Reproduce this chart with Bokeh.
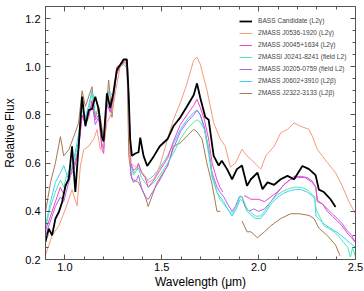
from bokeh.plotting import figure
from bokeh.models import (LinearAxis, SingleIntervalTicker, PrintfTickFormatter, Range1d, Legend,
                          LegendItem, CustomLabelingPolicy)
from bokeh.embed import file_html
from bokeh.resources import INLINE

nan = float("nan")

labels = [
    "BASS Candidate (L2\u03b3)",
    "2MASS J0536-1920 (L2\u03b3)",
    "2MASS J0045+1634 (L2\u03b3)",
    "2MASSI J0241-8241 (field L2)",
    "2MASS J0205-0759 (field L2)",
    "2MASS J0602+3910 (L2\u03b2)",
    "2MASS J2322-3133 (L2\u03b2)",
]
colors = ["#000000", "#F7997A", "#EE44C4", "#4DE8B0", "#B061F2", "#3FCFF8", "#A8784E"]
widths = [1.8, 1, 1, 1, 1, 1, 1]

# BASS Candidate
wl_bass = [0.9, 0.917, 0.934, 0.951, 0.969, 0.986, 1.003, 1.02, 1.037, 1.054, 1.071, 1.089, 1.106, 1.123,
           1.14, 1.157, 1.174, 1.191, 1.2, 1.217, 1.234, 1.25, 1.268, 1.285, 1.303, 1.32, 1.329, 1.337,
           1.346, 1.363, 1.38, 1.389, 1.406, 1.425, 1.46, 1.49, 1.53, 1.56, 1.596, 1.63, 1.665, 1.682,
           1.699, 1.725, 1.742, 1.768, 1.794, 1.81, 1.837, 1.863, 1.888, 1.914, 1.94, 1.96, 1.994, 2.02,
           2.046, 2.08, 2.114, 2.149, 2.183, 2.226, 2.26, 2.294, 2.311, 2.337, 2.371, 2.397]
fl_bass = [0.274, 0.328, 0.30, 0.369, 0.397, 0.439, 0.506, 0.534, 0.67, 0.48, 0.67, 0.876, 0.753, 0.82,
           0.825, 0.876, 0.825, 0.71, 0.69, 0.89, 0.83, 0.89, 0.986, 1.007, 1.03, 1.03, 0.89, 0.70,
           0.63, 0.64, 0.645, 0.706, 0.63, 0.588, 0.63, 0.67, 0.70, 0.753, 0.79, 0.835, 0.883, 0.931,
           0.87, 0.79, 0.78, 0.63, 0.59, 0.61, 0.575, 0.533, 0.575, 0.59, 0.506, 0.533, 0.56, 0.492,
           0.52, 0.51, 0.533, 0.547, 0.533, 0.588, 0.575, 0.55, 0.49, 0.48, 0.45, 0.418]

# 2MASS J0536-1920
wl_0536 = [0.9, 0.934, 0.969, 1.003, 1.037, 1.063, 1.08, 1.097, 1.123, 1.149, 1.166, 1.183, 1.2, 1.217,
           1.243, 1.26, 1.285, 1.311, 1.325, 1.337, 1.354, 1.38, 1.414, 1.43, 1.46, 1.49, 1.53, 1.56,
           1.596, 1.63, 1.665, 1.682, 1.699, 1.733, 1.768, 1.802, 1.828, 1.854, 1.88, 1.914, 1.94, 1.96,
           2.011, 2.037, 2.08, 2.114, 2.149, 2.183, 2.217, 2.26, 2.277, 2.303, 2.354, 2.397, 2.431, 2.466, 2.5]
fl_0536 = [0.218, 0.30, 0.34, 0.41, 0.49, 0.423, 0.588, 0.656, 0.67, 0.70, 0.739, 0.656, 0.67, 0.767,
           0.81, 0.89, 1.0, 1.02, 0.97, 0.603, 0.59, 0.575, 0.548, 0.52, 0.534, 0.588, 0.70, 0.78,
           0.85, 0.93, 1.027, 1.04, 1.01, 0.904, 0.767, 0.70, 0.67, 0.583, 0.60, 0.657, 0.63, 0.616,
           0.575, 0.63, 0.67, 0.726, 0.74, 0.767, 0.753, 0.74, 0.712, 0.657, 0.603, 0.56, 0.506, 0.44, 0.39]

# 2MASS J0045+1634
wl_0045 = [0.9, 0.926, 0.951, 0.977, 0.994, 1.01, 1.03, 1.05, 1.071, 1.089, 1.106, 1.123, 1.14, 1.157,
           1.174, 1.191, 1.2, 1.217, 1.234, 1.25, 1.268, 1.285, 1.303, 1.32, 1.33, 1.34, 1.354, 1.37,
           1.38, 1.395, 1.414, 1.43, 1.46, 1.49, 1.53, 1.56, 1.596, 1.63, 1.665, 1.682, 1.699, 1.72,
           1.742, 1.76, 1.785, 1.80, 1.815, 1.87, 1.925, 1.94, 1.96, 2.0, 2.03, 2.063, 2.097, 2.13, 2.16,
           2.183, 2.22, 2.25, 2.277, 2.295, 2.303, 2.33, 2.354, 2.38, 2.406, 2.43, 2.457, 2.48, 2.5]
fl_0045 = [0.32, 0.38, 0.44, 0.50, 0.47, 0.52, 0.56, 0.60, 0.66, 0.80, 0.76, 0.79, 0.86, 0.78,
           0.80, 0.66, 0.64, 0.84, 0.82, 0.88, 0.97, 1.0, 1.02, 1.01, 0.85, 0.60, 0.57, 0.58,
           0.60, 0.56, 0.54, 0.50, 0.53, 0.57, 0.62, 0.69, 0.76, 0.80, 0.84, 0.865, 0.83, 0.78,
           0.70, 0.60, 0.53, 0.50, 0.48, nan, 0.465, 0.46, 0.45, 0.45, 0.44, 0.46, 0.48, 0.51, 0.53,
           0.545, 0.545, 0.54, 0.525, 0.50, 0.445, 0.43, 0.40, 0.38, 0.36, 0.34, 0.31, 0.29, 0.27]

# 2MASSI J0241-8241
wl_0241 = [0.9, 0.926, 0.951, 0.977, 0.994, 1.01, 1.03, 1.05, 1.071, 1.089, 1.106, 1.123, 1.14, 1.157,
           1.174, 1.191, 1.2, 1.217, 1.234, 1.25, 1.268, 1.285, 1.303, 1.32, 1.33, 1.34, 1.354, 1.37,
           1.38, 1.395, 1.414, 1.43, 1.46, 1.49, 1.53, 1.56, 1.596, 1.63, 1.665, 1.682, 1.699, 1.72,
           1.742, 1.76, 1.785, 1.80, 1.82, 1.84, 1.863, 1.885, 1.905, 1.92, 1.94, 1.96, 1.985, 2.01,
           2.04, 2.063, 2.1, 2.13, 2.16, 2.19, 2.22, 2.25, 2.277, 2.29, 2.296, 2.32, 2.337, 2.36, 2.389,
           2.41, 2.44, 2.46, 2.474, 2.485, 2.5]
fl_0241 = [0.33, 0.42, 0.48, 0.53, 0.50, 0.55, 0.58, 0.62, 0.69, 0.82, 0.78, 0.82, 0.89, 0.80,
           0.81, 0.70, 0.69, 0.87, 0.84, 0.88, 0.98, 1.01, 1.02, 1.01, 0.85, 0.60, 0.55, 0.57,
           0.58, 0.54, 0.52, 0.50, 0.52, 0.55, 0.60, 0.64, 0.70, 0.74, 0.77, 0.78, 0.77, 0.74,
           0.66, 0.55, 0.48, 0.45, 0.43, 0.41, 0.39, 0.42, 0.465, 0.45, 0.41, 0.395, 0.38, 0.38,
           0.41, 0.44, 0.47, 0.485, 0.495, 0.50, 0.50, 0.49, 0.47, 0.46, 0.41, 0.37, 0.34, 0.33, 0.315,
           0.30, 0.27, 0.25, 0.21, 0.25, 0.21]

# 2MASS J0205-0759
wl_0205 = [0.9, 0.926, 0.951, 0.977, 0.994, 1.01, 1.03, 1.05, 1.071, 1.089, 1.106, 1.123, 1.14, 1.157,
           1.174, 1.191, 1.2, 1.217, 1.234, 1.25, 1.268, 1.285, 1.303, 1.32, 1.33, 1.34, 1.354, 1.37,
           1.38, 1.395, 1.414, 1.43, 1.46, 1.49, 1.53, 1.56, 1.596, 1.63, 1.665, 1.682, 1.699, 1.72,
           1.742, 1.76, 1.785, 1.80, 1.82, 1.84, 1.863, 1.88, 1.90, 1.915, 1.93, 1.95, 1.975, 2.0,
           2.03, 2.063, 2.1, 2.13, 2.16, 2.2, 2.24, 2.277, 2.295, 2.303, 2.33, 2.354, 2.38, 2.406,
           2.43, 2.457, 2.48, 2.5]
fl_0205 = [0.30, 0.36, 0.42, 0.46, 0.44, 0.49, 0.55, 0.58, 0.66, 0.80, 0.77, 0.80, 0.85, 0.76,
           0.79, 0.68, 0.66, 0.85, 0.81, 0.87, 0.98, 1.0, 1.02, 1.01, 0.80, 0.55, 0.52, 0.53,
           0.55, 0.50, 0.46, 0.45, 0.49, 0.53, 0.59, 0.66, 0.73, 0.77, 0.80, 0.82, 0.80, 0.75,
           0.66, 0.56, 0.50, 0.48, 0.46, 0.43, 0.40, 0.42, 0.46, 0.46, 0.42, 0.40, 0.41, 0.40,
           0.41, 0.44, 0.48, 0.51, 0.53, 0.54, 0.54, 0.52, 0.50, 0.44, 0.43, 0.41, 0.39, 0.37,
           0.35, 0.32, 0.30, 0.27]

# 2MASS J0602+3910
wl_0602 = [0.9, 0.926, 0.951, 0.977, 0.994, 1.02, 1.046, 1.071, 1.089, 1.106, 1.123, 1.14, 1.157, 1.174,
           1.191, 1.2, 1.226, 1.25, 1.268, 1.285, 1.303, 1.325, 1.34, 1.354, 1.37, 1.38, 1.406, 1.43,
           1.46, 1.49, 1.53, 1.56, 1.596, 1.63, 1.665, 1.682, 1.699, 1.72, 1.742, 1.76, 1.785, 1.80,
           1.82, 1.84, 1.863, 1.885, 1.905, 1.92, 1.94, 1.96, 1.985, 2.01, 2.04, 2.063, 2.1, 2.13,
           2.16, 2.19, 2.22, 2.25, 2.277, 2.29, 2.296, 2.32, 2.35, 2.389, 2.41, 2.44, 2.47, 2.5]
fl_0602 = [0.34, 0.44, 0.52, 0.56, 0.59, 0.53, 0.615, 0.72, 0.83, 0.79, 0.84, 0.90, 0.80, 0.79,
           0.72, 0.70, 0.90, 0.876, 0.986, 1.0, 1.01, 0.99, 0.60, 0.56, 0.57, 0.59, 0.55, 0.53,
           0.55, 0.58, 0.63, 0.68, 0.74, 0.78, 0.81, 0.82, 0.80, 0.74, 0.64, 0.54, 0.48, 0.46,
           0.44, 0.41, 0.38, 0.41, 0.45, 0.44, 0.40, 0.385, 0.37, 0.37, 0.40, 0.43, 0.46, 0.475,
           0.485, 0.49, 0.49, 0.48, 0.465, 0.45, 0.38, 0.36, 0.34, 0.32, 0.31, 0.29, 0.27, 0.25]

# 2MASS J2322-3133
wl_2322 = [0.9, 0.926, 0.951, 0.977, 0.994, 1.02, 1.046, 1.071, 1.089, 1.106, 1.14, 1.157, 1.174, 1.2,
           1.226, 1.243, 1.268, 1.294, 1.32, 1.33, 1.346, 1.38, 1.414, 1.43, 1.476, 1.53, 1.56, 1.596,
           1.63, 1.665, 1.682, 1.708, 1.733, 1.76, 1.785, 1.802, 1.86, 1.914, 1.94, 1.96, 1.994, 2.03,
           2.063, 2.114, 2.166, 2.209, 2.26, 2.286, 2.311, 2.354, 2.397, 2.42]
fl_2322 = [0.397, 0.52, 0.60, 0.71, 0.63, 0.656, 0.71, 0.767, 0.90, 0.835, 0.917, 0.79, 0.835, 0.70,
           0.945, 0.79, 1.0, 1.01, 1.03, 0.63, 0.534, 0.52, 0.465, 0.42, 0.52, 0.588, 0.67, 0.684,
           0.712, 0.74, 0.73, 0.70, 0.60, 0.51, 0.40, 0.40, nan, 0.36, 0.315, 0.315, 0.29, 0.315,
           0.34, 0.37, 0.39, 0.39, 0.383, 0.37, 0.33, 0.30, 0.26, 0.216]

wls = [wl_bass, wl_0536, wl_0045, wl_0241, wl_0205, wl_0602, wl_2322]
fls = [fl_bass, fl_0536, fl_0045, fl_0241, fl_0205, fl_0602, fl_2322]

FONT = "Liberation Sans"

p = figure(width=364, height=291, output_backend="svg", toolbar_location=None,
           x_range=Range1d(0.9, 2.5), y_range=Range1d(0.2, 1.25),
           min_border_left=44, min_border_right=9, min_border_top=6, min_border_bottom=30)
p.background_fill_color = "white"
p.border_fill_color = "white"
p.grid.visible = False
p.outline_line_color = "#222222"
p.outline_line_width = 1

order = [6, 5, 4, 3, 2, 1, 0]
rmap = {}
for i in order:
    rmap[i] = p.line(wls[i], fls[i], line_color=colors[i], line_width=widths[i])

legend = Legend(items=[LegendItem(label=labels[i], renderers=[rmap[i]]) for i in range(7)],
                location=(194, 163), border_line_color=None, background_fill_alpha=0,
                label_text_font=FONT, label_text_font_size="6.6px", glyph_width=13, glyph_height=6,
                label_height=6, spacing=5, padding=2, margin=0, label_standoff=6)
p.add_layout(legend, "center")

def style_axis(ax, show_labels):
    ax.axis_line_color = "#555555"
    ax.major_tick_line_color = "#555555"
    ax.minor_tick_line_color = "#555555"
    ax.major_tick_in = 5
    ax.major_tick_out = 0
    ax.minor_tick_in = 3
    ax.minor_tick_out = 0
    if show_labels:
        ax.major_label_text_font = FONT
        ax.major_label_text_font_size = "11px"
        ax.major_label_text_color = "black"
        ax.axis_label_text_font = FONT
        ax.axis_label_text_font_size = "12px"
        ax.axis_label_text_font_style = "normal"
        ax.axis_label_text_color = "black"
    else:
        ax.major_label_text_font_size = "0px"
        ax.major_label_standoff = 0
        ax.major_label_policy = CustomLabelingPolicy(
            code="for (const i of indices) { indices.unset(i) }\nreturn indices")

p.xaxis.ticker = SingleIntervalTicker(interval=0.5, num_minor_ticks=5)
p.yaxis.ticker = SingleIntervalTicker(interval=0.2, num_minor_ticks=4)
p.xaxis.formatter = PrintfTickFormatter(format="%.1f")
p.yaxis.formatter = PrintfTickFormatter(format="%.1f")
p.xaxis.axis_label = "Wavelength (\u03bcm)"
p.yaxis.axis_label = "Relative Flux"
style_axis(p.xaxis[0], True)
style_axis(p.yaxis[0], True)
p.xaxis.major_label_standoff = 3
p.xaxis.axis_label_standoff = 1
p.yaxis.major_label_standoff = 5
p.yaxis.axis_label_standoff = 5

top = LinearAxis(ticker=SingleIntervalTicker(interval=0.5, num_minor_ticks=5))
right = LinearAxis(ticker=SingleIntervalTicker(interval=0.2, num_minor_ticks=4))
style_axis(top, False)
style_axis(right, False)
p.add_layout(top, "above")
p.add_layout(right, "right")

open("out.html", "w").write(file_html(p, INLINE))
